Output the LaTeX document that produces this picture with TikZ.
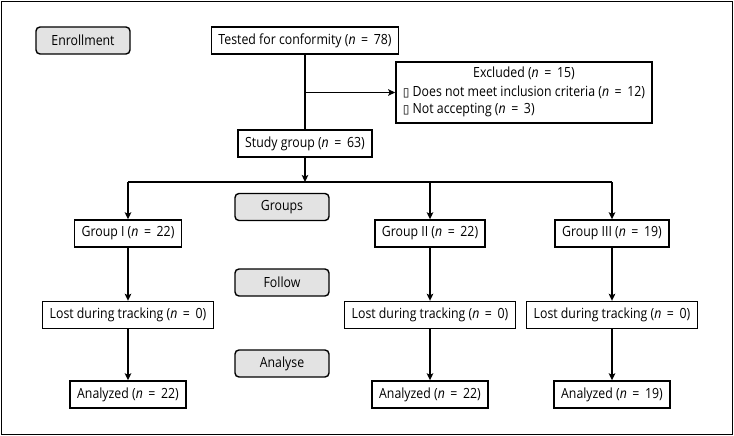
\documentclass[tikz,border=0pt]{standalone}
\usepackage{fontspec}
\setmainfont[FakeStretch=0.88]{Open Sans}
\newfontfamily\boxglyph{DejaVu Sans}
\usetikzlibrary{arrows.meta}

\newcommand\ncount[1]{(\textit{n}\hspace{.4em}=\hspace{.4em}#1)}

\begin{document}
\begin{tikzpicture}[x=1pt,y=-1pt,
      flowBox/.style={draw,line width=1.4pt,minimum height=27pt,inner xsep=7pt,font=\fontsize{14}{16}\selectfont},
      stageBox/.style={draw,line width=1.4pt,rounded corners=4pt,fill=black!11,minimum width=94pt,minimum height=27pt,font=\fontsize{14}{16}\selectfont},
      flowLine/.style={line width=1.4pt},
      flowArrow/.style={line width=1.4pt,-{Stealth[length=7pt,width=6.5pt,inset=1.5pt]}},
    ]

    \useasboundingbox (0,0) rectangle (734,436);
    \draw[line width=1.4pt] (1.5,1.5) rectangle (732.5,434.5);

    % stages on the left
    \node[stageBox] (enroll) at (83,40.5) {Enrollment};
    \node[stageBox] (groups) at (282,207) {Groups};
    \node[stageBox] (follow) at (282,282.5) {Follow};
    \node[stageBox] (analyse) at (282,363.5) {Analyse};

    \node[flowBox] (tested) at (305,40.5) {Tested for conformity \ncount{78}};
    \node[flowBox,minimum height=61pt] (excluded) at (524,92.5) {%
      \begin{tabular}{@{}l@{}}
        \multicolumn{1}{@{}c@{}}{Excluded \ncount{15}}\\[3pt]
        {\boxglyph\fontsize{12}{14}\selectfont ▯} Does not meet inclusion criteria \ncount{12}\\[1pt]
        {\boxglyph\fontsize{12}{14}\selectfont ▯} Not accepting \ncount{3}
      \end{tabular}};
    \node[flowBox] (study) at (305,143.5) {Study group \ncount{63}};
    \coordinate (split) at (305,182);

    \node[flowBox] (groupA) at (128,233.5) {Group I \ncount{22}};
    \node[flowBox] (groupB) at (430,233.5) {Group II \ncount{22}};
    \node[flowBox] (groupC) at (612,233.5) {Group III \ncount{19}};

    \node[flowBox] (lostA) at (128,315) {Lost during tracking \ncount{0}};
    \node[flowBox] (lostB) at (430,315) {Lost during tracking \ncount{0}};
    \node[flowBox] (lostC) at (612,315) {Lost during tracking \ncount{0}};

    \node[flowBox] (analyzedA) at (128,394.5) {Analyzed \ncount{22}};
    \node[flowBox] (analyzedB) at (430,394.5) {Analyzed \ncount{22}};
    \node[flowBox] (analyzedC) at (612,394.5) {Analyzed \ncount{19}};

    \draw[flowLine] (tested) -- (study);
    \draw[flowArrow] (tested.south |- excluded.west) -- (excluded.west);
    \draw[flowArrow] (study) -- (split);
    \draw[flowLine] (groupA.north |- split) -- (groupC.north |- split);

    \foreach \col in {A,B,C} {
      \draw[flowArrow] (group\col.north |- split) -- (group\col);
      \draw[flowArrow] (group\col) -- (lost\col);
      \draw[flowArrow] (lost\col) -- (analyzed\col);
    }

\end{tikzpicture}
\end{document}
